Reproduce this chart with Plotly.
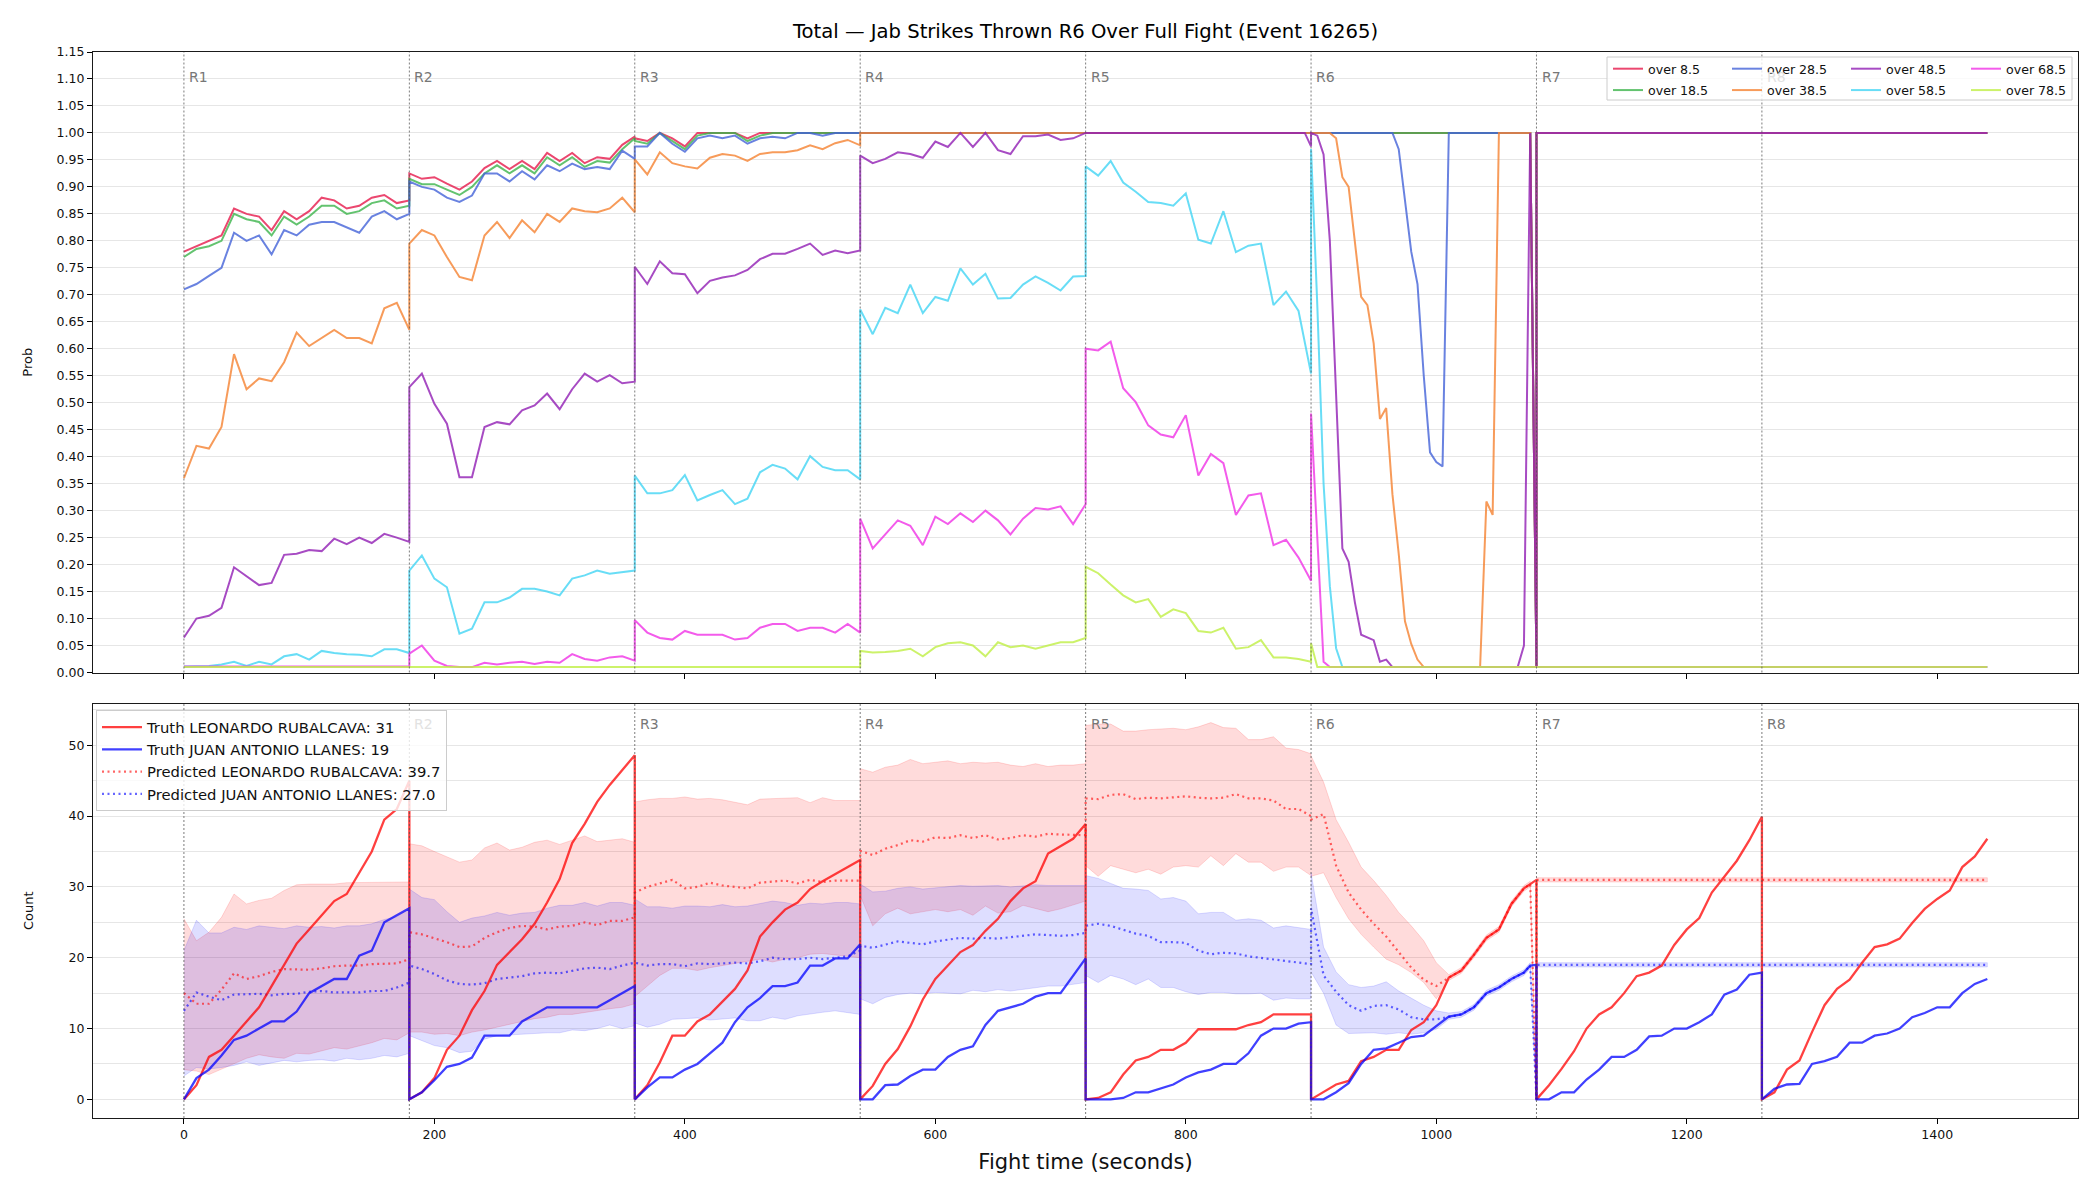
import plotly.graph_objects as go

# ---------------------------------------------------------------- structure
ROUND_STARTS = [0, 180, 360, 540, 720, 900, 1080, 1260]
ROUND_LABELS = ["R1", "R2", "R3", "R4", "R5", "R6", "R7", "R8"]
X_TICKS = [0, 200, 400, 600, 800, 1000, 1200, 1400]

# sample offsets inside a round (seconds); a segment's length picks its grid
OFFS_2 = [0, 180]
OFFS_3 = [0, 175, 180]
OFFS_10 = [0, 10, 20, 30, 40, 50, 60, 70, 80, 90, 100, 110, 120, 130, 140, 150, 160, 170, 180]
OFFS_10_END = [0, 10, 20, 30, 40, 50, 60, 70, 80, 90, 100, 110, 120, 130, 140, 150, 160, 170, 175, 180]
OFFS_5 = [0, 5, 10, 15, 20, 25, 30, 35, 40, 45, 50, 55, 60, 65, 70, 75, 80, 85, 90, 95, 100,
          105, 110, 115, 120, 125, 130, 135, 140, 145, 150, 155, 160, 165, 170, 175, 180]
GRIDS = {2: OFFS_2, 3: OFFS_3, 19: OFFS_10, 20: OFFS_10_END, 37: OFFS_5}

# ---------------------------------------------------------------- top panel: P(over line)
OVER_8_5 = [
    [0.78, 0.79, 0.80, 0.81, 0.86, 0.85, 0.845, 0.82, 0.855, 0.84, 0.855, 0.88, 0.875, 0.86, 0.865, 0.88, 0.885, 0.87, 0.875],
    [0.925, 0.915, 0.918, 0.906, 0.895, 0.91, 0.935, 0.948, 0.933, 0.948, 0.933, 0.963, 0.948, 0.963, 0.944, 0.955, 0.952, 0.978, 0.993],
    [0.99, 0.985, 1.0, 0.99, 0.975, 1.0, 1.0, 1.0, 1.0, 0.99, 1.0, 1.0, 1.0, 1.0, 1.0, 1.0, 1.0, 1.0, 1.0],
    [1.0, 1.0],
    [1.0, 1.0],
    [1.0, 1.0, 0.01],
    [1.0, 1.0],
    [1.0, 1.0],
]
OVER_18_5 = [
    [0.77, 0.785, 0.79, 0.80, 0.85, 0.84, 0.835, 0.81, 0.845, 0.83, 0.845, 0.865, 0.865, 0.85, 0.855, 0.87, 0.875, 0.86, 0.865],
    [0.915, 0.905, 0.905, 0.895, 0.885, 0.90, 0.925, 0.94, 0.925, 0.94, 0.925, 0.955, 0.94, 0.955, 0.937, 0.948, 0.945, 0.97, 0.99],
    [0.985, 0.98, 1.0, 0.985, 0.97, 0.995, 1.0, 1.0, 1.0, 0.985, 0.995, 1.0, 1.0, 1.0, 1.0, 1.0, 1.0, 1.0, 1.0],
    [1.0, 1.0],
    [1.0, 1.0],
    [1.0, 1.0, 0.01],
    [1.0, 1.0],
    [1.0, 1.0],
]
OVER_28_5 = [
    [0.71, 0.72, 0.735, 0.75, 0.815, 0.80, 0.81, 0.775, 0.82, 0.81, 0.83, 0.835, 0.835, 0.825, 0.815, 0.845, 0.855, 0.84, 0.85],
    [0.91, 0.90, 0.895, 0.88, 0.872, 0.884, 0.925, 0.925, 0.91, 0.929, 0.914, 0.94, 0.929, 0.943, 0.933, 0.937, 0.933, 0.967, 0.952],
    [0.975, 0.975, 1.0, 0.98, 0.965, 0.99, 0.995, 0.99, 0.995, 0.98, 0.99, 0.993, 0.99, 1.0, 1.0, 0.995, 1.0, 1.0, 1.0],
    [1.0, 1.0],
    [1.0, 1.0],
    [1.0, 1.0, 1.0, 1.0, 1.0, 1.0, 1.0, 1.0, 1.0, 1.0, 1.0, 1.0, 1.0, 1.0,
     0.97, 0.88, 0.78, 0.72, 0.55, 0.408, 0.39, 0.382,
     1.0, 1.0, 1.0, 1.0, 1.0, 1.0, 1.0, 1.0, 1.0, 1.0, 1.0, 1.0, 1.0, 1.0,
     0.01],
    [1.0, 1.0],
    [1.0, 1.0],
]
OVER_38_5 = [
    [0.36, 0.42, 0.415, 0.455, 0.59, 0.525, 0.545, 0.54, 0.575, 0.63, 0.605, 0.62, 0.635, 0.62, 0.62, 0.61, 0.675, 0.685, 0.635],
    [0.795, 0.82, 0.81, 0.77, 0.733, 0.727, 0.81, 0.835, 0.805, 0.838, 0.816, 0.85, 0.835, 0.86, 0.855, 0.853, 0.86, 0.88, 0.853],
    [0.951, 0.923, 0.964, 0.944, 0.938, 0.934, 0.954, 0.961, 0.958, 0.948, 0.961, 0.964, 0.964, 0.968, 0.977, 0.97, 0.981, 0.987, 0.977],
    [1.0, 1.0],
    [1.0, 1.0],
    [1.0, 1.0, 1.0, 1.0, 0.99, 0.918, 0.90, 0.80, 0.696, 0.681, 0.61, 0.47, 0.49, 0.33, 0.22, 0.095, 0.053, 0.024,
     0.01, 0.01, 0.01, 0.01, 0.01, 0.01, 0.01, 0.01, 0.01, 0.01,
     0.317, 0.292,
     1.0, 1.0, 1.0, 1.0, 1.0, 1.0,
     0.01],
    [1.0, 1.0],
    [1.0, 1.0],
]
OVER_48_5 = [
    [0.065, 0.10, 0.105, 0.12, 0.195, 0.178, 0.162, 0.166, 0.218, 0.22, 0.227, 0.225, 0.248, 0.238, 0.25, 0.24, 0.257, 0.25, 0.242],
    [0.529, 0.554, 0.498, 0.461, 0.362, 0.362, 0.455, 0.464, 0.46, 0.486, 0.495, 0.517, 0.488, 0.525, 0.554, 0.539, 0.551, 0.536, 0.539],
    [0.752, 0.72, 0.762, 0.74, 0.738, 0.703, 0.726, 0.732, 0.736, 0.746, 0.766, 0.776, 0.776, 0.785, 0.795, 0.774, 0.782, 0.777, 0.782],
    [0.958, 0.944, 0.952, 0.964, 0.961, 0.954, 0.984, 0.974, 1.0, 0.974, 1.0, 0.968, 0.961, 0.994, 0.994, 0.997, 0.987, 0.99, 1.0],
    [1.0, 1.0, 0.975],
    [1.0, 0.995, 0.96, 0.80, 0.50, 0.23, 0.205, 0.13, 0.07, 0.065, 0.06, 0.02, 0.024,
     0.01, 0.01, 0.01, 0.01, 0.01, 0.01, 0.01, 0.01, 0.01, 0.01, 0.01,
     0.01, 0.01, 0.01, 0.01, 0.01, 0.01, 0.01, 0.01, 0.01, 0.01,
     0.05, 1.0, 0.01],
    [1.0, 1.0],
    [1.0, 1.0],
]
OVER_58_5 = [
    [0.011, 0.012, 0.012, 0.015, 0.02, 0.012, 0.02, 0.015, 0.03, 0.034, 0.024, 0.04, 0.036, 0.034, 0.033, 0.03, 0.043, 0.043, 0.036],
    [0.189, 0.217, 0.174, 0.158, 0.072, 0.081, 0.13, 0.13, 0.139, 0.155, 0.155, 0.15, 0.143, 0.174, 0.18, 0.189, 0.183, 0.186, 0.189],
    [0.365, 0.332, 0.332, 0.338, 0.366, 0.319, 0.329, 0.338, 0.312, 0.322, 0.371, 0.385, 0.378, 0.358, 0.401, 0.381, 0.375, 0.375, 0.358],
    [0.673, 0.627, 0.676, 0.666, 0.719, 0.666, 0.696, 0.689, 0.749, 0.719, 0.739, 0.693, 0.694, 0.719, 0.734, 0.722, 0.708, 0.734, 0.735],
    [0.938, 0.921, 0.948, 0.908, 0.891, 0.872, 0.87, 0.865, 0.888, 0.802, 0.795, 0.855, 0.779, 0.791, 0.795, 0.681, 0.706, 0.67, 0.554],
    [0.97, 0.68, 0.35, 0.16, 0.045,
     0.01, 0.01, 0.01, 0.01, 0.01, 0.01, 0.01, 0.01,
     0.01, 0.01, 0.01, 0.01, 0.01, 0.01, 0.01, 0.01,
     0.01, 0.01, 0.01, 0.01, 0.01, 0.01, 0.01, 0.01,
     0.01, 0.01, 0.01, 0.01, 0.01, 0.01, 0.01, 0.01],
    [0.01, 0.01],
    [0.01, 0.01],
]
OVER_68_5 = [
    [0.011, 0.011],
    [0.035, 0.05, 0.022, 0.012, 0.01, 0.01, 0.018, 0.015, 0.018, 0.02, 0.016, 0.02, 0.018, 0.034, 0.025, 0.022, 0.028, 0.03, 0.022],
    [0.097, 0.074, 0.064, 0.061, 0.077, 0.07, 0.07, 0.07, 0.061, 0.064, 0.083, 0.09, 0.09, 0.077, 0.083, 0.083, 0.074, 0.09, 0.074],
    [0.285, 0.23, 0.256, 0.282, 0.272, 0.236, 0.289, 0.275, 0.295, 0.279, 0.3, 0.282, 0.256, 0.285, 0.305, 0.302, 0.308, 0.275, 0.312],
    [0.6, 0.597, 0.613, 0.527, 0.501, 0.458, 0.441, 0.436, 0.477, 0.365, 0.405, 0.388, 0.292, 0.328, 0.332, 0.236, 0.246, 0.213, 0.17],
    [0.48, 0.26, 0.02,
     0.01, 0.01, 0.01, 0.01, 0.01, 0.01, 0.01, 0.01,
     0.01, 0.01, 0.01, 0.01, 0.01, 0.01, 0.01, 0.01,
     0.01, 0.01, 0.01, 0.01, 0.01, 0.01, 0.01, 0.01,
     0.01, 0.01, 0.01, 0.01, 0.01, 0.01, 0.01, 0.01,
     0.01, 0.01],
    [0.01, 0.01],
    [0.01, 0.01],
]
OVER_78_5 = [
    [0.01, 0.01],
    [0.01, 0.01],
    [0.01, 0.01],
    [0.04, 0.037, 0.038, 0.04, 0.044, 0.03, 0.047, 0.054, 0.056, 0.05, 0.03, 0.056, 0.047, 0.05, 0.044, 0.05, 0.056, 0.056, 0.064],
    [0.196, 0.184, 0.163, 0.143, 0.13, 0.136, 0.103, 0.117, 0.11, 0.077, 0.074, 0.083, 0.044, 0.047, 0.06, 0.028, 0.028, 0.025, 0.02],
    [0.054,
     0.01, 0.01, 0.01, 0.01, 0.01, 0.01, 0.01, 0.01, 0.01,
     0.01, 0.01, 0.01, 0.01, 0.01, 0.01, 0.01, 0.01, 0.01,
     0.01, 0.01, 0.01, 0.01, 0.01, 0.01, 0.01, 0.01, 0.01,
     0.01, 0.01, 0.01, 0.01, 0.01, 0.01, 0.01, 0.01, 0.01],
    [0.01, 0.01],
    [0.01, 0.01],
]

LINE_NAMES = ["over 8.5", "over 18.5", "over 28.5", "over 38.5",
              "over 48.5", "over 58.5", "over 68.5", "over 78.5"]
LINE_SERIES = [OVER_8_5, OVER_18_5, OVER_28_5, OVER_38_5,
               OVER_48_5, OVER_58_5, OVER_68_5, OVER_78_5]
LINE_COLORS = ["rgba(230,25,75,0.8)", "rgba(60,180,75,0.8)", "rgba(67,99,216,0.8)", "rgba(245,130,49,0.8)",
               "rgba(145,30,180,0.8)", "rgba(66,212,244,0.8)", "rgba(240,50,230,0.8)", "rgba(191,239,69,0.8)"]
LINE_LEGENDS = ["legend", "legend", "legend2", "legend2", "legend3", "legend3", "legend4", "legend4"]

# ---------------------------------------------------------------- bottom panel: counts
RED_NAME = "LEONARDO RUBALCAVA"
BLUE_NAME = "JUAN ANTONIO LLANES"
RED_TRUTH_FINAL = 31
BLUE_TRUTH_FINAL = 19
RED_PRED_FINAL = 39.7
BLUE_PRED_FINAL = 27.0

TRUTH_RED = [
    [0, 2, 6, 7, 9, 11, 13, 16, 19, 22, 24, 26, 28, 29, 32, 35, 39.5, 41, 45],
    [0, 1, 3, 7, 9, 12.6, 15.3, 19, 20.8, 22.6, 24.8, 27.8, 31.1, 36.2, 38.9, 42, 44.4, 46.5, 48.6],
    [0, 2, 5.2, 9, 9, 11, 12, 13.8, 15.6, 18.2, 23, 25, 26.8, 27.8, 29.7, 30.8, 31.8, 32.8, 33.8],
    [0, 1.9, 5, 7.1, 10.3, 14.1, 17, 18.9, 20.8, 21.8, 23.8, 25.5, 28, 29.8, 30.8, 34.7, 35.8, 36.8, 38.9],
    [0, 0.2, 1, 3.5, 5.5, 6, 7, 7, 8, 9.9, 9.9, 9.9, 9.9, 10.5, 10.9, 12, 12, 12, 12],
    [0, 1, 2.1, 2.6, 5.4, 6, 7, 7, 9.8, 10.9, 13.3, 17.2, 18.2, 20.4, 22.8, 24, 27.6, 29.8, 30.4, 31],
    [0, 2, 4.3, 6.8, 10, 12, 13, 15, 17.4, 17.9, 18.9, 21.8, 24, 25.6, 29.2, 31.5, 33.7, 36.6, 39.9],
    [0, 1, 4.2, 5.5, 9.5, 13.3, 15.6, 16.9, 19.3, 21.5, 21.9, 22.7, 24.9, 26.9, 28.3, 29.5, 32.8, 34.3, 36.8],
]
TRUTH_BLUE = [
    [0, 3, 4.2, 6.2, 8.4, 9, 10, 11, 11, 12.4, 15, 16, 17, 17, 20.3, 21, 25, 26, 27],
    [0, 1, 2.7, 4.6, 5, 5.9, 9, 9, 9, 11, 12, 13, 13, 13, 13, 13, 14, 15, 16],
    [0, 1.7, 3.1, 3.1, 4.2, 5, 6.5, 8, 10.9, 13, 14.3, 16, 16, 16.5, 18.9, 18.9, 19.9, 19.9, 21.9],
    [0, 0, 2, 2.1, 3.3, 4.2, 4.2, 6, 7, 7.5, 10.5, 12.5, 13, 13.5, 14.5, 15, 15, 17.5, 19.9],
    [0, 0, 0, 0.2, 1, 1, 1.5, 2.1, 3.1, 3.8, 4.2, 5, 5, 6.5, 9, 10, 10, 10.7, 10.9],
    [0, 0, 1, 2.3, 5, 7, 7.2, 8, 8.8, 9, 10.3, 11.7, 12, 13, 15, 15.8, 17, 17.9, 18.9, 19],
    [0, 0, 1, 1, 2.8, 4.2, 6, 6, 7, 8.9, 9, 10, 10, 10.9, 12, 14.8, 15.5, 17.6, 17.9],
    [0, 1.5, 2.1, 2.2, 5, 5.4, 6, 8, 8, 9, 9.3, 10, 11.6, 12.2, 13, 13, 15, 16.3, 17],
]
PRED_RED = [
    [15, 13.5, 13.5, 15.5, 17.8, 17, 17.4, 18, 18.4, 18.3, 18.3, 18.5, 18.8, 18.9, 18.9, 19.1, 19.1, 19.2, 19.8],
    [23.6, 23.3, 22.8, 22.2, 21.5, 21.6, 22.8, 23.6, 24.2, 24.5, 24.4, 24, 24.4, 24.5, 25, 24.6, 25.2, 25.2, 25.7],
    [29.2, 30, 30.5, 31, 29.8, 30, 30.6, 30.2, 30, 29.8, 30.6, 30.7, 30.9, 30.5, 31, 30.7, 30.9, 30.9, 30.9],
    [35.1, 34.5, 35.4, 35.9, 36.6, 36.4, 37, 36.9, 37.3, 36.9, 37.3, 36.7, 36.9, 37.3, 37.1, 37.5, 37.4, 37.3, 37.3],
    [42.5, 42.4, 43, 43.1, 42.4, 42.6, 42.5, 42.6, 42.8, 42.6, 42.5, 42.6, 43.1, 42.5, 42.5, 42.2, 41, 41, 40],
    [39.5, 40.3, 33, 29.2, 26.8, 24.8, 23, 20.8, 18.6, 16.9, 16, 17.2, 18.2, 20.4, 22.8, 24, 27.6, 29.8, 30.4, 0],
    [31, 31],
    [31, 31],
]
RED_BAND_HI = [
    [25.5, 22.4, 23.6, 25.7, 29, 27.6, 28.1, 28.4, 29.5, 30.3, 30.4, 30.4, 30.4, 30.6, 30.6, 30.6, 30.7, 30.6, 30.7],
    [36.1, 35.8, 35, 34.2, 33.5, 33.8, 35.5, 36.2, 35.2, 35.6, 36.3, 36.6, 36, 36.6, 37.2, 36.4, 36.6, 36.8, 36.3],
    [42, 42.3, 42.5, 42.5, 42.7, 42.4, 42.5, 42.3, 42, 41.6, 42.4, 42.5, 42.5, 42.6, 41.9, 42.6, 42.2, 42.2, 42.2],
    [46.7, 46.2, 46.9, 47.2, 48, 47.4, 47.6, 47.8, 47.4, 47.6, 47.5, 47.6, 47.2, 47, 47.4, 47, 47.2, 47.2, 47.4],
    [52.8, 53, 53, 52, 52, 52.2, 52.3, 52.4, 52.2, 52.6, 53.2, 52.5, 52.4, 50.8, 50.8, 51.2, 49.6, 49.4, 48.8],
    [48.5, 44.8, 39.5, 36.3, 32.8, 30.9, 28.8, 26.4, 24.5, 22.4, 19.3, 17.6, 18.6, 20.8, 23.2, 24.4, 28, 30.2, 30.8, 0],
    [31.3, 31.3],
    [31.3, 31.3],
]
RED_BAND_LO = [
    [4.2, 4, 3.5, 4.3, 5, 5.8, 6.3, 6, 5.8, 6.5, 6.4, 6.8, 7.3, 7.1, 7.6, 8, 8.6, 8.4, 9.4],
    [9.5, 9.5, 9.2, 9.3, 9, 9.5, 9.8, 10.2, 10.5, 11, 11.4, 11.6, 12, 12, 12.2, 12.5, 12.8, 13, 13.5],
    [14.5, 16, 17.5, 18.5, 18.5, 18.2, 18.6, 19, 19.2, 19.5, 19.8, 19.4, 19.8, 20, 20.5, 20.6, 20.5, 20.2, 20],
    [28.8, 24.5, 26.2, 27, 26.2, 26.5, 26.8, 26.5, 26.8, 26, 27.3, 26.3, 26.5, 27.4, 26.9, 26.5, 26.9, 27.4, 28],
    [33, 31.5, 33, 32.5, 32, 32.5, 31.8, 32.8, 33, 32.8, 34.4, 33, 34.7, 33.5, 33.5, 32.2, 32.8, 32.8, 31.6],
    [31.5, 32, 28.5, 25.5, 23.3, 21.5, 19.8, 19, 17.9, 16.5, 14.2, 16.8, 17.8, 20, 22.4, 23.6, 27.2, 29.4, 30, 0],
    [30.7, 30.7],
    [30.7, 30.7],
]
PRED_BLUE = [
    [12.5, 15.1, 14.5, 14, 14.8, 14.9, 14.9, 14.7, 14.9, 14.9, 15.2, 15.3, 15.1, 15.1, 15.1, 15.3, 15.3, 15.8, 16.5],
    [18.9, 18.4, 17.7, 16.8, 16.3, 16.2, 16.4, 17, 17.2, 17.4, 17.8, 17.9, 17.8, 18.2, 18.5, 18.6, 18.4, 18.9, 19.3],
    [19.3, 18.9, 19.1, 19.1, 18.8, 19.2, 19.1, 19.2, 19.3, 19.2, 19.5, 20, 19.8, 19.8, 20, 19.8, 20, 20.2, 21],
    [21.7, 21.4, 21.9, 22.3, 22.1, 21.9, 22.3, 22.6, 22.8, 22.7, 22.8, 22.7, 22.9, 23.1, 23.3, 23.2, 23.1, 23.2, 23.5],
    [24.5, 24.8, 24.5, 23.9, 23.4, 23.1, 22.2, 22.2, 22.1, 21, 20.5, 20.7, 20.6, 20.2, 20, 19.7, 19.5, 19.3, 19.1],
    [27, 17.5, 15.2, 13.3, 12.5, 13.2, 13.3, 12.7, 11.6, 11.3, 11.3, 11.7, 12, 13, 15, 15.8, 17, 17.9, 18.9, 0],
    [19, 19],
    [19, 19],
]
BLUE_BAND_HI = [
    [21, 25.3, 23.5, 23.5, 24.3, 24, 24.5, 24.3, 24.1, 24.5, 24.3, 24.4, 24.2, 24.5, 24.5, 24.8, 25.4, 25.8, 26.9],
    [29.7, 28.5, 28.2, 26.5, 25, 25.6, 25.9, 26.4, 26, 26.3, 26.4, 27, 27.4, 27.4, 27.8, 27.3, 27.8, 27.8, 27.4],
    [28.3, 27.2, 27.2, 27, 27.3, 27.3, 27.2, 27.5, 27.2, 27.3, 27.6, 28, 27.8, 27.4, 27.7, 27.6, 27.8, 27.8, 27.6],
    [30.4, 29.3, 29.4, 29.8, 30, 29.7, 29.9, 30.1, 30.2, 30.1, 30.1, 30.2, 30, 30.2, 30.3, 30.2, 30.2, 30.2, 30.2],
    [31.6, 31.2, 30.5, 29.8, 29.7, 29.5, 28.3, 28.5, 28, 26.2, 26.4, 26.4, 25.3, 25.5, 25.3, 24.2, 24.5, 24.3, 24],
    [32, 21.5, 18, 16.2, 15.8, 16, 16.6, 15.3, 14.3, 13.3, 12.5, 12.2, 12.4, 13.4, 15.4, 16.2, 17.4, 18.3, 19.3, 0],
    [19.3, 19.3],
    [19.3, 19.3],
]
BLUE_BAND_LO = [
    [3.3, 4.5, 4.3, 4.5, 4.8, 5.3, 4.8, 5.2, 5.5, 5.3, 5.5, 5.6, 5.4, 5.8, 5.6, 5.8, 6.2, 6, 6.5],
    [9, 8.3, 7.6, 7.3, 6.6, 6.8, 8.5, 9, 9.1, 9.2, 9.3, 9.4, 9.4, 9.8, 9.7, 10, 10.5, 10, 10.4],
    [10.8, 10.2, 10.6, 11.3, 11.4, 11.5, 11.2, 11.3, 11.5, 11.1, 11.1, 11.6, 11.3, 11.8, 12, 12.3, 12.5, 12.2, 12],
    [14.2, 13.5, 14.4, 14.8, 15, 14.9, 15.1, 15, 14.9, 15.4, 15.2, 15.5, 15.3, 15.5, 15.8, 16, 16, 16.3, 16.5],
    [17.5, 16.5, 17.5, 17, 16.2, 17, 15.8, 15.8, 15.2, 14.8, 15.1, 15.1, 14.9, 14.9, 15, 14, 14.3, 14.2, 14.2],
    [18, 15, 10.5, 9.3, 9.4, 9.4, 9.2, 9.4, 9.2, 9.4, 9.9, 11.3, 11.6, 12.6, 14.6, 15.4, 16.6, 17.5, 18.5, 0],
    [18.7, 18.7],
    [18.7, 18.7],
]

TITLE = "Total \u2014 Jab Strikes Thrown R6 Over Full Fight (Event 16265)"
FONT = "DejaVu Sans, Liberation Sans, sans-serif"


def expand(segments, label):
    xs, ys = [], []
    for start, seg in zip(ROUND_STARTS, segments):
        if len(seg) not in GRIDS:
            raise ValueError(f"{label}: segment of length {len(seg)} at round start {start}")
        xs.extend(start + o for o in GRIDS[len(seg)])
        ys.extend(seg)
    return xs, ys


fig = go.Figure()

# ---------------- top panel lines
for name, segs, col, lg in zip(LINE_NAMES, LINE_SERIES, LINE_COLORS, LINE_LEGENDS):
    xs, ys = expand(segs, name)
    fig.add_trace(go.Scatter(x=xs, y=ys, mode="lines", name=name, legend=lg, legendgroup=name,
                             line=dict(color=col, width=2), xaxis="x", yaxis="y",
                             hoverinfo="skip"))

# ---------------- bottom panel bands
for hi, lo, col, nm in [(RED_BAND_HI, RED_BAND_LO, "rgba(255,0,0,0.14)", "red band"),
                        (BLUE_BAND_HI, BLUE_BAND_LO, "rgba(0,0,255,0.13)", "blue band")]:
    xh, yh = expand(hi, nm)
    xl, yl = expand(lo, nm)
    fig.add_trace(go.Scatter(x=xh + xl[::-1], y=yh + yl[::-1], mode="lines", fill="toself",
                             fillcolor=col, line=dict(color=col, width=1), showlegend=False,
                             hoverinfo="skip", xaxis="x2", yaxis="y2"))

# ---------------- predicted (dotted)
xp, yp = expand(PRED_RED, "pred red")
fig.add_trace(go.Scatter(x=xp, y=yp, mode="lines", name=f"Predicted {RED_NAME}: {RED_PRED_FINAL:.1f}",
                         line=dict(color="rgba(255,0,0,0.6)", width=2.2, dash="2px,3.5px"),
                         legend="legend5", legendrank=3, xaxis="x2", yaxis="y2", hoverinfo="skip"))
xp, yp = expand(PRED_BLUE, "pred blue")
fig.add_trace(go.Scatter(x=xp, y=yp, mode="lines", name=f"Predicted {BLUE_NAME}: {BLUE_PRED_FINAL:.1f}",
                         line=dict(color="rgba(0,0,255,0.6)", width=2.2, dash="2px,3.5px"),
                         legend="legend5", legendrank=4, xaxis="x2", yaxis="y2", hoverinfo="skip"))

# ---------------- truth (solid)
xt, yt = expand(TRUTH_RED, "truth red")
fig.add_trace(go.Scatter(x=xt, y=yt, mode="lines", name=f"Truth {RED_NAME}: {RED_TRUTH_FINAL}",
                         line=dict(color="rgba(255,0,0,0.75)", width=2.3),
                         legend="legend5", legendrank=1, xaxis="x2", yaxis="y2", hoverinfo="skip"))
xt, yt = expand(TRUTH_BLUE, "truth blue")
fig.add_trace(go.Scatter(x=xt, y=yt, mode="lines", name=f"Truth {BLUE_NAME}: {BLUE_TRUTH_FINAL}",
                         line=dict(color="rgba(0,0,255,0.75)", width=2.3),
                         legend="legend5", legendrank=2, xaxis="x2", yaxis="y2", hoverinfo="skip"))

# ---------------- layout geometry
W, H = 2100, 1200
ML, MR, MT, MB = 93, 22, 52, 82
PW = W - ML - MR
PH = H - MT - MB
TOP_Y0 = (H - MB - 672.5) / PH
BOT_Y1 = (H - MB - 703.5) / PH


def px_x(p):
    return (p - ML) / PW


def px_y(p):
    return (H - MB - p) / PH


shapes = []
annotations = []
for i, (s, lab) in enumerate(zip(ROUND_STARTS, ROUND_LABELS)):
    for xr, yr in [("x", "y"), ("x2", "y2")]:
        shapes.append(dict(type="line", xref=xr, yref=f"{yr} domain", x0=s, x1=s, y0=0, y1=1,
                           line=dict(color="rgba(80,80,80,0.75)", width=1, dash="2px,2px"), layer="above"))
    faint_top = lab == "R8"
    annotations.append(dict(x=s + 2.5, y=1.103, xref="x", yref="y", text=lab, showarrow=False,
                            xanchor="left", yanchor="middle",
                            font=dict(family=FONT, size=14, color="#e2e2e2" if faint_top else "#777777")))
    faint_bot = lab in ("R1", "R2")
    annotations.append(dict(x=s + 2.5, y=53.0, xref="x2", yref="y2", text=lab, showarrow=False,
                            xanchor="left", yanchor="middle",
                            font=dict(family=FONT, size=14,
                                      color=("rgba(0,0,0,0)" if lab == "R1" else "#e2e2e2") if faint_bot else "#777777")))

# frame of the top (multi-column) legend
shapes.append(dict(type="rect", xref="paper", yref="paper",
                   x0=px_x(1607), x1=px_x(2072), y0=px_y(100), y1=px_y(57),
                   fillcolor="rgba(255,255,255,0.8)", line=dict(color="#cccccc", width=1), layer="above"))

leg_common = dict(xanchor="left", yanchor="top", bgcolor="rgba(0,0,0,0)", borderwidth=0,
                  font=dict(family=FONT, size=12.6, color="#111111"), orientation="v",
                  tracegroupgap=2, itemwidth=30)
legend_top_y = px_y(54)

fig.update_layout(
    width=W, height=H,
    margin=dict(l=ML, r=MR, t=MT, b=MB),
    paper_bgcolor="white", plot_bgcolor="white",
    font=dict(family=FONT, size=12.5, color="#111111"),
    title=dict(text=TITLE, x=px_x(1085.5), xref="paper", xanchor="center",
               y=1 - 31 / H, yref="container", yanchor="middle",
               font=dict(family=FONT, size=19.6, color="#000000")),
    showlegend=True,
    legend=dict(x=px_x(1608), y=legend_top_y, **leg_common),
    legend2=dict(x=px_x(1727), y=legend_top_y, **leg_common),
    legend3=dict(x=px_x(1846), y=legend_top_y, **leg_common),
    legend4=dict(x=px_x(1966), y=legend_top_y, **leg_common),
    legend5=dict(x=px_x(96), y=px_y(710), xanchor="left", yanchor="top",
                 bgcolor="rgba(255,255,255,0.8)", bordercolor="#cccccc", borderwidth=1,
                 font=dict(family=FONT, size=14.8, color="#111111"), orientation="v",
                 tracegroupgap=0, itemwidth=40, traceorder="normal"),
    xaxis=dict(domain=[0, 1], anchor="y", range=[-72.6, 1512.4], tickvals=X_TICKS,
               showticklabels=False, ticks="outside", ticklen=5, tickcolor="#000",
               showgrid=False, zeroline=False, showline=True, mirror=True,
               linecolor="#1a1a1a", linewidth=1.3),
    yaxis=dict(domain=[TOP_Y0, 1], anchor="x", range=[0, 1.15], tick0=0, dtick=0.05,
               tickformat=".2f", ticks="outside", ticklen=5, tickcolor="#000",
               tickfont=dict(family=FONT, size=12.5, color="#111"),
               showgrid=True, gridcolor="#e6e6e6", gridwidth=1, zeroline=False,
               showline=True, mirror=True, linecolor="#1a1a1a", linewidth=1.3,
               title=dict(text="Prob", font=dict(family=FONT, size=13, color="#111"), standoff=20)),
    xaxis2=dict(domain=[0, 1], anchor="y2", range=[-72.6, 1512.4], tickvals=X_TICKS,
                ticks="outside", ticklen=5, tickcolor="#000",
                tickfont=dict(family=FONT, size=12.5, color="#111"),
                showgrid=False, zeroline=False, showline=True, mirror=True,
                linecolor="#1a1a1a", linewidth=1.3,
                title=dict(text="Fight time (seconds)", font=dict(family=FONT, size=21, color="#111"),
                           standoff=13)),
    yaxis2=dict(domain=[0, BOT_Y1], anchor="x2", range=[-2.63, 55.9], tick0=0, dtick=10,
                ticks="outside", ticklen=5, tickcolor="#000",
                tickfont=dict(family=FONT, size=12.5, color="#111"),
                showgrid=True, gridcolor="#e6e6e6", gridwidth=1, zeroline=False,
                minor=dict(dtick=5, showgrid=True, gridcolor="#e6e6e6", ticks=""),
                showline=True, mirror=True, linecolor="#1a1a1a", linewidth=1.3,
                title=dict(text="Count", font=dict(family=FONT, size=13, color="#111"), standoff=31)),
    shapes=shapes,
    annotations=annotations,
    hovermode=False,
)

fig.write_html("out.html")
